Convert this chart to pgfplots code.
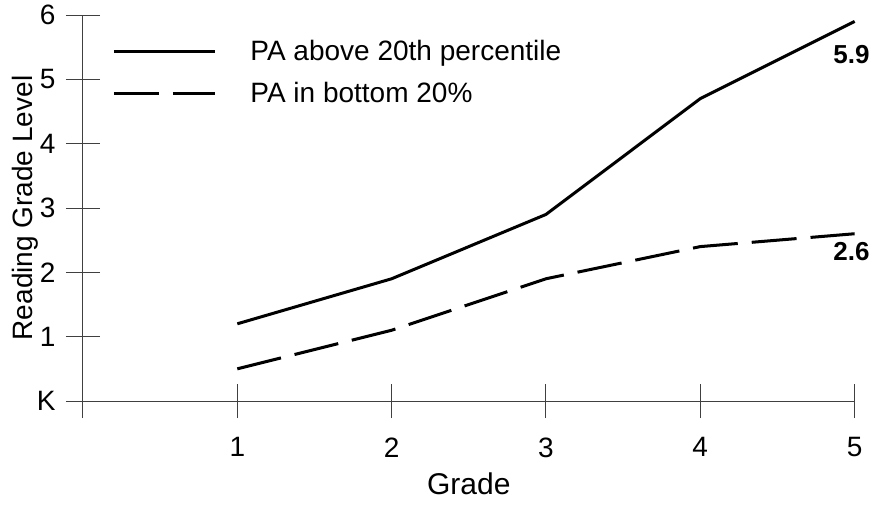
\documentclass[border=0pt]{standalone}
\usepackage{pgfplots}
\pgfplotsset{compat=1.18}
\usepackage{fontspec}
\setmainfont{Liberation Sans}

\begin{document}
\begin{tikzpicture}
% fixed page size, in px of the reference (axis origin at 83,401)
\path (-83pt,-103pt) rectangle (804pt,401pt);
\begin{axis}[
    scale only axis,
    width=771.6pt,
    height=386pt,
    xmin=0, xmax=5,
    ymin=0, ymax=6,
    axis x line=bottom,
    axis y line=left,
    axis line style={-, line width=1pt, black!75},
    tick style={line width=1pt, black!75},
    tick align=center,
    major tick length=34pt,
    xtick={0,1,2,3,4,5},
    xticklabels={,1,2,3,4,5},
    ytick={0,1,2,3,4,5,6},
    yticklabels={K,1,2,3,4,5,6},
    ticklabel style={font=\fontsize{28}{32}\selectfont},
    xticklabel style={yshift=-16pt},
    yticklabel style={xshift=-7pt},
    xlabel={Grade},
    ylabel={Reading Grade Level},
    xlabel style={font=\fontsize{30}{34}\selectfont, yshift=-9pt},
    ylabel style={font=\fontsize{28}{32}\selectfont, yshift=-8pt},
    clip=false,
    legend image code/.code={\draw[#1] (0pt,0pt) -- (101pt,0pt);},
    legend style={draw=none, fill=none, at={(0.034,0.945)}, anchor=north west,
        font=\fontsize{28}{32}\selectfont, row sep=16pt,
        /tikz/every odd column/.append style={column sep=32pt}},
    legend cell align=left,
]
\addplot[black, line width=3pt] coordinates {
    (1,1.2) (2,1.9) (3,2.9) (4,4.7) (5,5.9)
};
\addlegendentry{PA above 20th percentile}
\addplot[black, line width=3pt, dash pattern=on 45pt off 14pt] coordinates {
    (1,0.5) (2,1.1) (3,1.9) (4,2.4) (5,2.6)
};
\addlegendentry{PA in bottom 20\%}
\node[font=\fontsize{26}{30}\selectfont\bfseries] at (axis cs:4.98,5.39) {5.9};
\node[font=\fontsize{26}{30}\selectfont\bfseries] at (axis cs:4.98,2.33) {2.6};
\end{axis}
\end{tikzpicture}
\end{document}
